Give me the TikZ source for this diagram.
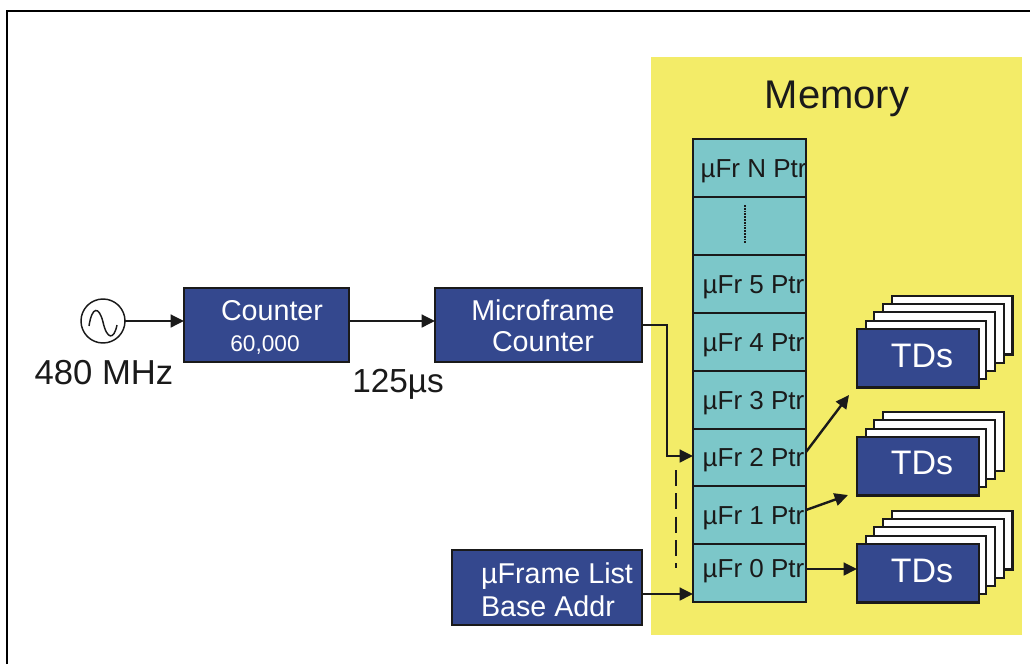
\documentclass[tikz,border=0pt]{standalone}
\usepackage{fontspec}
\setmainfont{Liberation Sans}
\usetikzlibrary{arrows.meta}
\definecolor{blueb}{HTML}{34488E}
\definecolor{tealb}{HTML}{7CC7C9}
\definecolor{yell}{HTML}{F3EC68}
\definecolor{ink}{HTML}{1A1A1A}
\newcommand{\fs}[1]{\fontsize{#1}{#1}\selectfont}
\newcommand{\shifted}[2]{\makebox[0pt]{\hspace{6pt}\raisebox{#1}[0pt][0pt]{#2}}}
\tikzset{
  every node/.style={inner sep=0pt,outer sep=0pt},
  bluebox/.style={draw=ink,fill=blueb,line width=1.6pt,anchor=north west},
  backbox/.style={draw=ink,fill=white,line width=1.6pt,anchor=north west,minimum width=90.5pt,minimum height=44pt},
  frontbox/.style={draw=ink,fill=blueb,line width=1.8pt,anchor=north west,minimum width=91.5pt,minimum height=44pt,text=white,font=\fs{25.5}},
  rowbox/.style={draw=ink,fill=tealb,line width=1.5pt,anchor=north west,minimum width=84.75pt,minimum height=43.4pt,text=ink,font=\fs{19.5}},
  wtext/.style={text=white,font=\fs{21.5}},
  btext/.style={text=ink},
  conn/.style={draw=ink,line width=1.8pt,-{Triangle[length=10pt,width=9.5pt]}},
}
\begin{document}
\begin{tikzpicture}[x=0.75pt,y=-0.75pt]
\useasboundingbox (0,0) rectangle (1030,664);
\fill[white] (0,0) rectangle (1030,664);
\draw[black,line width=1.5pt] (7,664) -- (7,11) -- (1030,11);
\fill[yell] (651,57) rectangle (1022,635);
\node[btext,font=\fs{30}] (mem) at (837,99) {Memory};
% oscillator
\node[draw=ink,line width=1.1pt,circle,minimum size=33pt] (osc) at (103,321) {};
\draw[ink,line width=1.1pt] (89,326) .. controls (92,306) and (99,306) .. (103,322) .. controls (107,340) and (114,340) .. (117,325);
\node[btext,font=\fs{26}] (f) at (104,373) {480 MHz};
% boxes
\node[bluebox,minimum width=123.75pt,minimum height=55.5pt] (cnt) at (184,288) {};
\node[wtext] (cntA) at (272,311) {Counter};
\node[wtext,font=\fs{17}] (cntB) at (265,345) {60,000};
\node[bluebox,minimum width=155.25pt,minimum height=55.5pt] (mf) at (435,288) {};
\node[wtext] (mfA) at (543,310) {Microframe};
\node[wtext] (mfB) at (543,342) {Counter};
\node[bluebox,minimum width=142.5pt,minimum height=56pt] (base) at (452,550) {};
\node[wtext] (baseA) at (557,576) {µFrame List};
\node[wtext] (baseB) at (548,606) {Base Addr};
\node[btext,font=\fs{25}] (t) at (398,384) {125µs};
% table
\node[rowbox] (rN) at (693,139) {\shifted{-7pt}{µFr N Ptr}};
\node[rowbox] (rD) at (693,197) {};
\node[rowbox] (r5) at (693,255) {\shifted{-7pt}{µFr 5 Ptr}};
\node[rowbox] (r4) at (693,313) {\shifted{-7pt}{µFr 4 Ptr}};
\node[rowbox] (r3) at (693,371) {\shifted{-7pt}{µFr 3 Ptr}};
\node[rowbox] (r2) at (693,428.5) {\shifted{-7pt}{µFr 2 Ptr}};
\node[rowbox] (r1) at (693,486) {\shifted{-7pt}{µFr 1 Ptr}};
\node[rowbox] (r0) at (693,544) {\shifted{-3.25pt}{µFr 0 Ptr}};
\draw[ink,line width=2.2pt,dash pattern=on 1.3pt off 0.8pt] (745,205) -- (745,244);
% TD stacks
\foreach \i in {4,3,2,1} \node[backbox] at ({857+8.7*\i},{329-8.3*\i}) {};
\node[frontbox] (td1) at (857,329) {\shifted{-6.5pt}{TDs}};
\foreach \i in {3,2,1} \node[backbox] at ({857+8.7*\i},{437-8.3*\i}) {};
\node[frontbox] (td2) at (857,437) {\shifted{-6.1pt}{TDs}};
\foreach \i in {4,3,2,1} \node[backbox] at ({857+8.7*\i},{544-8.3*\i}) {};
\node[frontbox] (td3) at (857,544) {\shifted{-6.5pt}{TDs}};
% connectors
\coordinate (a1) at (849,395);
\coordinate (a2) at (848,495);
\coordinate (b1) at (667,325);
\coordinate (b2) at (667,456);
\coordinate (d1) at (676,470);
\coordinate (d2) at (676,568);
\draw[conn] (osc.east) -- (cnt.west |- osc.east);
\draw[conn] (cnt.east |- osc.east) -- (mf.west |- osc.east);
\draw[conn] (mf.east |- b1) -- (b1) -- (b2) -- (r2.west |- b2);
\draw[conn] (base.east |- 0,594) -- (r0.west |- 0,594);
\draw[conn] (806,452) -- (a1);
\draw[conn] (806,510) -- (a2);
\draw[conn] (806,569) -- (td3.west |- 0,569);
\draw[ink,line width=2.2pt,dash pattern=on 12pt off 5.5pt] (d1) -- (d2);
\end{tikzpicture}
\end{document}
